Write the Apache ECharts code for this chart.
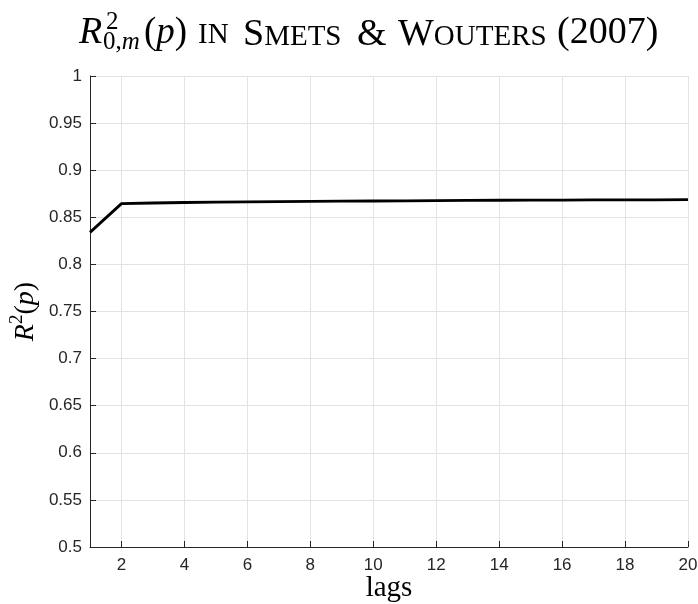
<!DOCTYPE html>
<html>
<head>
<meta charset="utf-8">
<script src="https://cdn.jsdelivr.net/npm/echarts@6/dist/echarts.min.js"></script>
<style>
  html, body { margin: 0; padding: 0; background: #fff; }
  #main { width: 698px; height: 604px; }
</style>
</head>
<body>
<div id="main"></div>
<script>
'use strict';
// lags p = 1..20
var lags = [1, 2, 3, 4, 5, 6, 7, 8, 9, 10, 11, 12, 13, 14, 15, 16, 17, 18, 19, 20];
// R^2(p)
var r2 = [0.834, 0.8645, 0.8652, 0.8657, 0.8661, 0.8664, 0.8667, 0.8669, 0.8671, 0.8673,
          0.8675, 0.8677, 0.8679, 0.8681, 0.8682, 0.8683, 0.8684, 0.8685, 0.8686, 0.8687];
var yMin = 0.5, yMax = 1, yStep = 0.05;

var serif = '"Liberation Serif", "DejaVu Serif", serif';
var sans = '"Liberation Sans", Arial, sans-serif';
var ink = '#262626';
var green = '#587858';
var big = 38, small = 29;

var chart = echarts.init(document.getElementById('main'));

// baseline helper: zrender draws text with middle baseline
function mid(baseline, size) { return baseline - 0.32 * size; }

// one word of the title in (fake) small caps
function capsWord(x, first, rest, color) {
  return { type: 'text', x: x, y: mid(45, big), style: {
    text: '{b|' + first + '}' + (rest ? '{s|' + rest + '}' : ''),
    verticalAlign: 'middle',
    rich: {
      b: { font: big + 'px ' + serif, color: color, verticalAlign: 'bottom', lineHeight: 42 },
      s: { font: small + 'px ' + serif, color: color, verticalAlign: 'bottom', lineHeight: 42, padding: [0, 0, 2, 0] }
    } } };
}

var option = {
  backgroundColor: '#fff',
  animation: false,
  grid: { left: 90, right: 10, top: 76, bottom: 57, containLabel: false, outerBoundsMode: 'none' },
  graphic: [
    { type: 'text', x: 79, y: mid(45, big), style: {
        text: 'R', font: 'italic ' + big + 'px ' + serif, fill: '#000', verticalAlign: 'middle' } },
    { type: 'text', x: 106, y: mid(30, 25), style: {
        text: '2', font: '25px ' + serif, fill: '#000', verticalAlign: 'middle' } },
    { type: 'text', x: 103, y: mid(50, 25), style: {
        text: '{n|0,}{i|m}', verticalAlign: 'middle', fill: '#000',
        rich: { n: { font: '25px ' + serif }, i: { font: 'italic 25px ' + serif } } } },
    { type: 'text', x: 144, y: mid(45, 37), style: {
        text: '{n|(}{i|p}{n|)}', verticalAlign: 'middle', fill: '#000',
        rich: { n: { font: '37px ' + serif }, i: { font: 'italic 37px ' + serif } } } },
    { type: 'text', x: 198, y: mid(45, small), style: {
        text: 'IN', font: small + 'px ' + serif, fill: '#000', verticalAlign: 'middle' } },
    capsWord(243, 'S', 'METS', green),
    capsWord(357, '&', '', green),
    capsWord(398, 'W', 'OUTERS', green),
    { type: 'text', x: 557, y: mid(45, big), style: {
        text: '{k|(}{g|2007}{k|)}', verticalAlign: 'middle',
        rich: {
          k: { font: big + 'px ' + serif, color: '#000' },
          g: { font: big + 'px ' + serif, color: green }
        } } }
  ],
  xAxis: {
    type: 'category',
    data: lags,
    boundaryGap: false,
    name: 'lags',
    nameLocation: 'middle',
    nameGap: 27,
    nameMoveOverlap: false,
    nameTextStyle: { fontFamily: serif, fontSize: 29, color: '#000' },
    axisLine: { show: true, lineStyle: { color: ink, width: 1 } },
    axisTick: { show: true, inside: true, length: 6, interval: function (i) { return i % 2 === 1; },
                lineStyle: { color: ink } },
    axisLabel: { interval: function (i) { return i % 2 === 1; }, color: ink, fontFamily: sans,
                 fontSize: 17, margin: 10 },
    splitLine: { show: true, interval: function (i) { return i % 2 === 1; },
                 lineStyle: { color: '#e3e3e3', width: 1 } }
  },
  yAxis: {
    type: 'value',
    min: yMin,
    max: yMax,
    interval: yStep,
    name: '{i|R}{s|2}{n|(}{i|p}{n|)}',
    nameLocation: 'middle',
    nameRotate: 90,
    nameGap: 50,
    nameMoveOverlap: false,
    nameTextStyle: {
      color: '#000',
      rich: {
        i: { fontFamily: serif, fontStyle: 'italic', fontSize: 28, verticalAlign: 'bottom', lineHeight: 32 },
        n: { fontFamily: serif, fontSize: 28, verticalAlign: 'bottom', lineHeight: 32 },
        s: { fontFamily: serif, fontSize: 19, verticalAlign: 'top', lineHeight: 32 }
      }
    },
    axisLine: { show: true, lineStyle: { color: ink, width: 1 } },
    axisTick: { show: true, inside: true, length: 6, lineStyle: { color: ink } },
    axisLabel: { color: ink, fontFamily: sans, fontSize: 17, margin: 8 },
    splitLine: { show: true, lineStyle: { color: '#e3e3e3', width: 1 } }
  },
  series: [{
    type: 'line',
    data: r2,
    showSymbol: false,
    symbol: 'none',
    lineStyle: { color: '#000', width: 2.8 },
    z: 5
  }]
};

chart.setOption(option);
</script>
</body>
</html>
